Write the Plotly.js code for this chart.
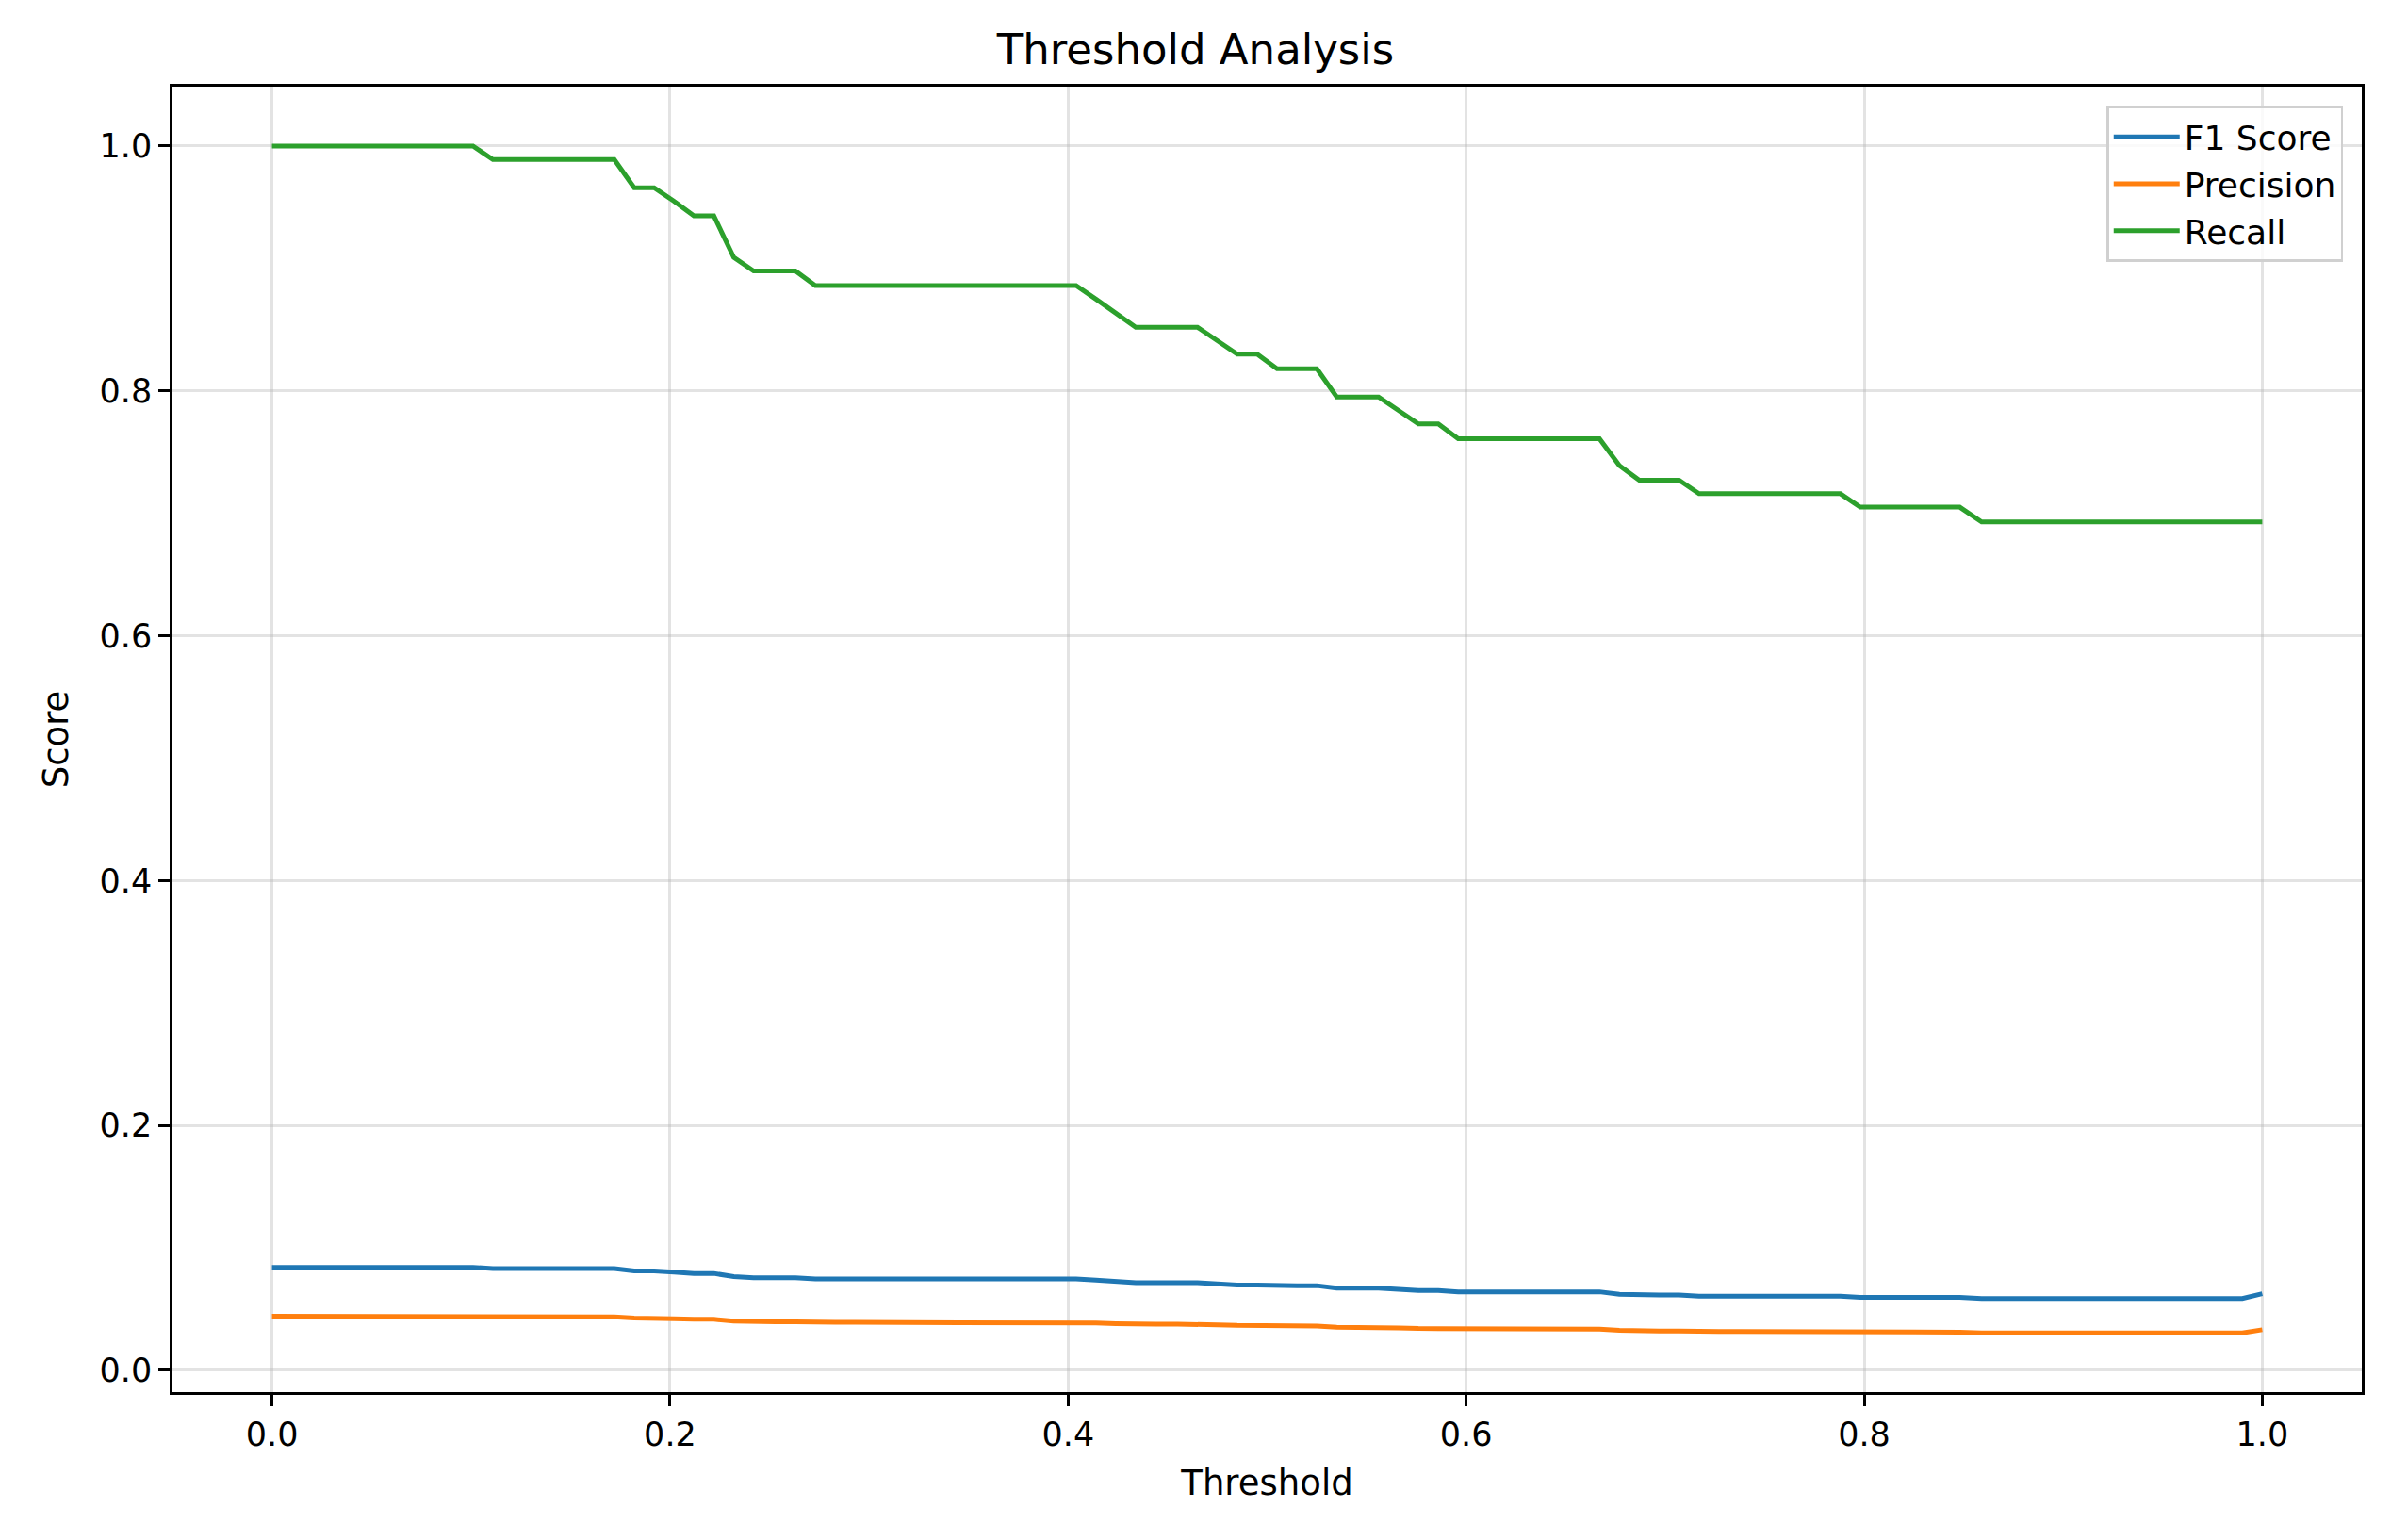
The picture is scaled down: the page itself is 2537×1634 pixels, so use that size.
<!DOCTYPE html>
<html><head><meta charset="utf-8">
<script src="https://cdn.plot.ly/plotly-3.0.1.min.js"></script>
<style>body{margin:0;background:#fff}</style></head>
<body><div id="c" style="width:2537px;height:1634px"></div>
<script>
const thresholds=[0.000,0.010,0.020,0.030,0.040,0.051,0.061,0.071,0.081,0.091,
0.101,0.111,0.121,0.131,0.141,0.152,0.162,0.172,0.182,0.192,
0.202,0.212,0.222,0.232,0.242,0.253,0.263,0.273,0.283,0.293,
0.303,0.313,0.323,0.333,0.343,0.354,0.364,0.374,0.384,0.394,
0.404,0.414,0.424,0.434,0.444,0.455,0.465,0.475,0.485,0.495,
0.505,0.515,0.525,0.535,0.545,0.556,0.566,0.576,0.586,0.596,
0.606,0.616,0.626,0.636,0.646,0.657,0.667,0.677,0.687,0.697,
0.707,0.717,0.727,0.737,0.747,0.758,0.768,0.778,0.788,0.798,
0.808,0.818,0.828,0.838,0.848,0.859,0.869,0.879,0.889,0.899,
0.909,0.919,0.929,0.939,0.949,0.960,0.970,0.980,0.990,1.000];
const recall=[1,1,1,1,1,1,1,1,1,1,
1,0.989,0.989,0.989,0.989,0.989,0.989,0.989,0.966,0.966,
0.955,0.943,0.943,0.909,0.898,0.898,0.898,0.886,0.886,0.886,
0.886,0.886,0.886,0.886,0.886,0.886,0.886,0.886,0.886,0.886,
0.886,0.875,0.864,0.852,0.852,0.852,0.852,0.841,0.830,0.830,
0.818,0.818,0.818,0.795,0.795,0.795,0.784,0.773,0.773,0.761,
0.761,0.761,0.761,0.761,0.761,0.761,0.761,0.739,0.727,0.727,
0.727,0.716,0.716,0.716,0.716,0.716,0.716,0.716,0.716,0.705,
0.705,0.705,0.705,0.705,0.705,0.693,0.693,0.693,0.693,0.693,
0.693,0.693,0.693,0.693,0.693,0.693,0.693,0.693,0.693,0.693];
const precision=[0.044,0.044,0.044,0.044,0.044,0.044,0.044,0.044,0.044,0.044,
0.044,0.0435,0.0435,0.0435,0.0435,0.0435,0.0435,0.0435,0.0425,0.0425,
0.042,0.0415,0.0415,0.040,0.0395,0.0395,0.0395,0.039,0.039,0.039,
0.039,0.039,0.039,0.039,0.039,0.039,0.039,0.039,0.039,0.039,
0.039,0.0385,0.038,0.0375,0.0375,0.0375,0.0375,0.037,0.0365,0.0365,
0.036,0.036,0.036,0.035,0.035,0.035,0.0345,0.034,0.034,0.0335,
0.0335,0.0335,0.0335,0.0335,0.0335,0.0335,0.0335,0.0325,0.032,0.032,
0.032,0.0315,0.0315,0.0315,0.0315,0.0315,0.0315,0.0315,0.0315,0.031,
0.031,0.031,0.031,0.031,0.031,0.0305,0.0305,0.0305,0.0305,0.0305,
0.0305,0.0305,0.0305,0.0305,0.0305,0.0305,0.0305,0.0305,0.0305,0.033];
const f1=[0.084,0.084,0.084,0.084,0.084,0.084,0.084,0.084,0.084,0.084,
0.084,0.083,0.083,0.083,0.083,0.083,0.083,0.083,0.081,0.081,
0.080,0.079,0.079,0.0765,0.0755,0.0755,0.0755,0.0745,0.0745,0.0745,
0.0745,0.0745,0.0745,0.0745,0.0745,0.0745,0.0745,0.0745,0.0745,0.0745,
0.0745,0.0735,0.0725,0.0715,0.0715,0.0715,0.0715,0.0705,0.0695,0.0695,
0.069,0.069,0.069,0.067,0.067,0.067,0.066,0.065,0.065,0.064,
0.064,0.064,0.064,0.064,0.064,0.064,0.064,0.062,0.0615,0.0615,
0.0615,0.0605,0.0605,0.0605,0.0605,0.0605,0.0605,0.0605,0.0605,0.0595,
0.0595,0.0595,0.0595,0.0595,0.0595,0.0585,0.0585,0.0585,0.0585,0.0585,
0.0585,0.0585,0.0585,0.0585,0.0585,0.0585,0.0585,0.0585,0.0585,0.0625];
const seriesNames=["F1 Score","Precision","Recall"];
const colors=["#1f77b4","#ff7f0e","#2ca02c"];
const ys=[f1,precision,recall];
const traces=ys.map((y,i)=>({x:thresholds,y:y,name:seriesNames[i],mode:"lines",line:{color:colors[i],width:5}}));
const ax={showline:true,mirror:true,linecolor:"#000",linewidth:2.5,ticks:"outside",ticklen:12,tickwidth:2.5,tickcolor:"#000",
 showgrid:true,gridcolor:"rgba(176,176,176,0.35)",gridwidth:2.5,zeroline:false,tickfont:{size:35,color:"#000"}};
Plotly.newPlot("c",traces,{
 width:2537,height:1634,paper_bgcolor:"#fff",plot_bgcolor:"#fff",
 font:{family:"DejaVu Sans",color:"#000"},
 margin:{l:183,r:31,t:92,b:157},
 title:{text:"Threshold Analysis",font:{size:45},x:0.5,xanchor:"center",y:1-52/1634,yanchor:"middle"},
 xaxis:Object.assign({},ax,{range:[-0.05,1.05],tickvals:[0,0.2,0.4,0.6,0.8,1.0],ticktext:["0.0","0.2","0.4","0.6","0.8","1.0"],title:{text:"Threshold",font:{size:37},standoff:20}}),
 yaxis:Object.assign({},ax,{range:[-0.0179,1.0485],tickvals:[0,0.2,0.4,0.6,0.8,1.0],ticktext:["0.0","0.2","0.4","0.6","0.8","1.0"],title:{text:"Score",font:{size:37},standoff:22}}),
 legend:{x:0.9915,xanchor:"right",y:0.985,yanchor:"top",bordercolor:"#d0d0d0",borderwidth:2.5,font:{size:36},bgcolor:"rgba(255,255,255,0.8)",itemwidth:70,tracegroupgap:6},
 showlegend:true
},{displayModeBar:false});
</script></body></html>
